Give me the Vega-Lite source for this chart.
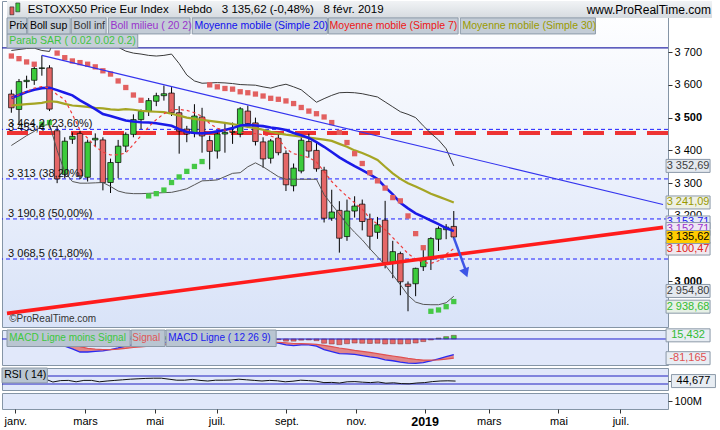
{
"$schema":"https://vega.github.io/schema/vega-lite/v6.json",
"background":"white",
"padding":{"left":1,"top":0,"right":0,"bottom":0},
"spacing":3,
"bounds":"flush",
"config":{
 "font":"Liberation Sans",
 "view":{"stroke":"#8595a6","strokeWidth":1},
 "locale":{"number":{"decimal":",","thousands":" ","grouping":[3],"currency":["","€"]}},
 "axis":{"labelFont":"Liberation Sans","labelFontSize":11,"labelColor":"#000","tickColor":"#333","domain":false,"grid":false}
},
"datasets":{"w":[
{"d":"2017-12-29","o":3572,"h":3585,"l":3515,"c":3530,"u":3705,"b":3415,"m7":3560,"m20":3560,"m30":3537,"s":3688,"mc":25,"sg":30,"hi":-5,"r":55},
{"d":"2018-01-05","o":3525,"h":3618,"l":3480,"c":3610,"u":3708,"b":3430,"m7":3570,"m20":3569,"m30":3539,"s":3680,"mc":28,"sg":29,"hi":-1,"r":62},
{"d":"2018-01-12","o":3610,"h":3628,"l":3590,"c":3614,"u":3711,"b":3445,"m7":3580,"m20":3578,"m30":3541,"s":3670,"mc":30,"sg":29,"hi":1,"r":63},
{"d":"2018-01-19","o":3614,"h":3662,"l":3600,"c":3650,"u":3712,"b":3458,"m7":3590,"m20":3585,"m30":3543,"s":3663,"mc":33,"sg":30,"hi":3,"r":66},
{"d":"2018-01-26","o":3650,"h":3690,"l":3628,"c":3652,"u":3705,"b":3475,"m7":3595,"m20":3590,"m30":3545,"s":3480,"mc":35,"sg":31,"hi":4,"r":66},
{"d":"2018-02-02","o":3652,"h":3660,"l":3520,"c":3526,"u":3702,"b":3480,"m7":3590,"m20":3591,"m30":3550,"s":3485,"mc":10,"sg":20,"hi":-10,"r":55},
{"d":"2018-02-09","o":3460,"h":3475,"l":3300,"c":3313,"u":3768,"b":3400,"m7":3570,"m20":3584,"m30":3548,"s":3697,"mc":-15,"sg":5,"hi":-20,"r":40},
{"d":"2018-02-16","o":3327,"h":3440,"l":3315,"c":3428,"u":3817,"b":3335,"m7":3555,"m20":3576,"m30":3542,"s":3683,"mc":-30,"sg":-8,"hi":-22,"r":47},
{"d":"2018-02-23","o":3434,"h":3455,"l":3420,"c":3443,"u":3831,"b":3305,"m7":3510,"m20":3568,"m30":3537,"s":3673,"mc":-42,"sg":-20,"hi":-22,"r":48},
{"d":"2018-03-02","o":3452,"h":3460,"l":3312,"c":3322,"u":3806,"b":3300,"m7":3462,"m20":3553,"m30":3535,"s":3668,"mc":-55,"sg":-32,"hi":-23,"r":41},
{"d":"2018-03-09","o":3318,"h":3433,"l":3305,"c":3425,"u":3780,"b":3300,"m7":3437,"m20":3540,"m30":3533,"s":3663,"mc":-55,"sg":-40,"hi":-15,"r":48},
{"d":"2018-03-16","o":3432,"h":3452,"l":3412,"c":3437,"u":3751,"b":3301,"m7":3412,"m20":3526,"m30":3530,"s":3655,"mc":-52,"sg":-43,"hi":-9,"r":48},
{"d":"2018-03-23","o":3432,"h":3440,"l":3278,"c":3302,"u":3720,"b":3302,"m7":3395,"m20":3511,"m30":3528,"s":3643,"mc":-50,"sg":-45,"hi":-5,"r":41},
{"d":"2018-03-30","o":3302,"h":3375,"l":3270,"c":3363,"u":3720,"b":3290,"m7":3386,"m20":3505,"m30":3525,"s":3633,"mc":-45,"sg":-45,"hi":0,"r":45},
{"d":"2018-04-06","o":3363,"h":3432,"l":3315,"c":3413,"u":3715,"b":3276,"m7":3387,"m20":3498,"m30":3524,"s":3612,"mc":-38,"sg":-43,"hi":5,"r":48},
{"d":"2018-04-13","o":3413,"h":3455,"l":3395,"c":3449,"u":3703,"b":3270,"m7":3392,"m20":3491,"m30":3526,"s":3592,"mc":-30,"sg":-40,"hi":10,"r":51},
{"d":"2018-04-20","o":3449,"h":3510,"l":3440,"c":3494,"u":3697,"b":3268,"m7":3418,"m20":3488,"m30":3524,"s":3569,"mc":-24,"sg":-36,"hi":12,"r":54},
{"d":"2018-04-27","o":3494,"h":3525,"l":3465,"c":3519,"u":3694,"b":3268,"m7":3445,"m20":3486,"m30":3521,"s":3553,"mc":-20,"sg":-33,"hi":13,"r":56},
{"d":"2018-05-04","o":3519,"h":3560,"l":3505,"c":3552,"u":3690,"b":3269,"m7":3472,"m20":3485,"m30":3519,"s":3261,"mc":-18,"sg":-30,"hi":12,"r":58},
{"d":"2018-05-11","o":3550,"h":3576,"l":3535,"c":3567,"u":3688,"b":3270,"m7":3494,"m20":3483,"m30":3518,"s":3268,"mc":-16,"sg":-27,"hi":11,"r":59},
{"d":"2018-05-18","o":3567,"h":3598,"l":3552,"c":3573,"u":3690,"b":3271,"m7":3512,"m20":3479,"m30":3517,"s":3279,"mc":-14,"sg":-24,"hi":10,"r":59},
{"d":"2018-05-25","o":3575,"h":3593,"l":3505,"c":3515,"u":3694,"b":3272,"m7":3524,"m20":3475,"m30":3512,"s":3302,"mc":-14,"sg":-22,"hi":8,"r":54},
{"d":"2018-06-01","o":3515,"h":3535,"l":3390,"c":3459,"u":3665,"b":3277,"m7":3525,"m20":3465,"m30":3506,"s":3319,"mc":-15,"sg":-20,"hi":5,"r":49},
{"d":"2018-06-08","o":3465,"h":3475,"l":3425,"c":3450,"u":3630,"b":3283,"m7":3522,"m20":3456,"m30":3500,"s":3336,"mc":-16,"sg":-19,"hi":3,"r":49},
{"d":"2018-06-15","o":3452,"h":3541,"l":3440,"c":3505,"u":3612,"b":3295,"m7":3515,"m20":3453,"m30":3496,"s":3351,"mc":-13,"sg":-18,"hi":5,"r":53},
{"d":"2018-06-22","o":3502,"h":3530,"l":3393,"c":3444,"u":3605,"b":3307,"m7":3504,"m20":3452,"m30":3493,"s":3366,"mc":-14,"sg":-17,"hi":3,"r":48},
{"d":"2018-06-29","o":3430,"h":3445,"l":3342,"c":3397,"u":3606,"b":3308,"m7":3482,"m20":3454,"m30":3490,"s":3600,"mc":-16,"sg":-17,"hi":1,"r":45},
{"d":"2018-07-06","o":3398,"h":3460,"l":3375,"c":3450,"u":3607,"b":3310,"m7":3467,"m20":3458,"m30":3487,"s":3594,"mc":-16,"sg":-16.5,"hi":0.5,"r":49},
{"d":"2018-07-13","o":3450,"h":3485,"l":3393,"c":3455,"u":3606,"b":3320,"m7":3462,"m20":3462,"m30":3484,"s":3589,"mc":-15,"sg":-16,"hi":1,"r":49},
{"d":"2018-07-20","o":3455,"h":3485,"l":3420,"c":3458,"u":3604,"b":3330,"m7":3458,"m20":3468,"m30":3480,"s":3587,"mc":-14,"sg":-15.5,"hi":1.5,"r":50},
{"d":"2018-07-27","o":3450,"h":3532,"l":3440,"c":3527,"u":3601,"b":3332,"m7":3455,"m20":3476,"m30":3476,"s":3579,"mc":-10,"sg":-14.5,"hi":4.5,"r":54},
{"d":"2018-08-03","o":3520,"h":3537,"l":3470,"c":3482,"u":3600,"b":3350,"m7":3453,"m20":3478,"m30":3472,"s":3576,"mc":-9,"sg":-13.5,"hi":4.5,"r":51},
{"d":"2018-08-10","o":3484,"h":3500,"l":3415,"c":3427,"u":3599,"b":3362,"m7":3451,"m20":3476,"m30":3468,"s":3572,"mc":-10,"sg":-13,"hi":3,"r":48},
{"d":"2018-08-17","o":3426,"h":3440,"l":3347,"c":3374,"u":3594,"b":3350,"m7":3448,"m20":3474,"m30":3463,"s":3566,"mc":-13,"sg":-13,"hi":0,"r":45},
{"d":"2018-08-24","o":3376,"h":3435,"l":3360,"c":3429,"u":3590,"b":3335,"m7":3444,"m20":3470,"m30":3457,"s":3559,"mc":-14,"sg":-13.3,"hi":-0.7,"r":48},
{"d":"2018-08-31","o":3437,"h":3449,"l":3385,"c":3393,"u":3597,"b":3320,"m7":3436,"m20":3467,"m30":3452,"s":3556,"mc":-17,"sg":-14,"hi":-3,"r":46},
{"d":"2018-09-07","o":3391,"h":3400,"l":3276,"c":3295,"u":3602,"b":3312,"m7":3405,"m20":3462,"m30":3448,"s":3551,"mc":-25,"sg":-16,"hi":-9,"r":41},
{"d":"2018-09-14","o":3292,"h":3360,"l":3275,"c":3346,"u":3594,"b":3312,"m7":3390,"m20":3453,"m30":3445,"s":3543,"mc":-28,"sg":-19,"hi":-9,"r":44},
{"d":"2018-09-21","o":3337,"h":3440,"l":3330,"c":3431,"u":3585,"b":3312,"m7":3385,"m20":3446,"m30":3442,"s":3531,"mc":-25,"sg":-20,"hi":-5,"r":49},
{"d":"2018-09-28","o":3427,"h":3451,"l":3378,"c":3398,"u":3566,"b":3312,"m7":3378,"m20":3438,"m30":3439,"s":3520,"mc":-25,"sg":-21,"hi":-4,"r":47},
{"d":"2018-10-05","o":3400,"h":3424,"l":3335,"c":3344,"u":3547,"b":3312,"m7":3365,"m20":3425,"m30":3436,"s":3512,"mc":-30,"sg":-23,"hi":-7,"r":44},
{"d":"2018-10-12","o":3340,"h":3350,"l":3180,"c":3193,"u":3558,"b":3265,"m7":3335,"m20":3411,"m30":3433,"s":3502,"mc":-45,"sg":-27,"hi":-18,"r":37},
{"d":"2018-10-19","o":3193,"h":3280,"l":3185,"c":3212,"u":3568,"b":3235,"m7":3305,"m20":3395,"m30":3429,"s":3485,"mc":-53,"sg":-32,"hi":-21,"r":38},
{"d":"2018-10-26","o":3217,"h":3245,"l":3088,"c":3132,"u":3576,"b":3206,"m7":3281,"m20":3379,"m30":3420,"s":3455,"mc":-62,"sg":-38,"hi":-24,"r":35},
{"d":"2018-11-02","o":3137,"h":3250,"l":3124,"c":3215,"u":3577,"b":3175,"m7":3260,"m20":3365,"m30":3411,"s":3424,"mc":-63,"sg":-43,"hi":-20,"r":41},
{"d":"2018-11-09","o":3215,"h":3260,"l":3195,"c":3230,"u":3576,"b":3150,"m7":3240,"m20":3352,"m30":3400,"s":3390,"mc":-65,"sg":-48,"hi":-17,"r":42},
{"d":"2018-11-16","o":3236,"h":3250,"l":3156,"c":3183,"u":3573,"b":3127,"m7":3221,"m20":3340,"m30":3392,"s":3360,"mc":-70,"sg":-52,"hi":-18,"r":39},
{"d":"2018-11-23","o":3190,"h":3207,"l":3098,"c":3138,"u":3568,"b":3100,"m7":3192,"m20":3327,"m30":3382,"s":3332,"mc":-76,"sg":-57,"hi":-19,"r":37},
{"d":"2018-11-30","o":3150,"h":3197,"l":3130,"c":3173,"u":3563,"b":3075,"m7":3175,"m20":3313,"m30":3371,"s":3307,"mc":-80,"sg":-62,"hi":-18,"r":40},
{"d":"2018-12-07","o":3187,"h":3246,"l":3040,"c":3057,"u":3548,"b":3050,"m7":3158,"m20":3288,"m30":3350,"s":3285,"mc":-88,"sg":-67,"hi":-21,"r":34},
{"d":"2018-12-14","o":3057,"h":3124,"l":3010,"c":3091,"u":3533,"b":3020,"m7":3134,"m20":3266,"m30":3330,"s":3256,"mc":-92,"sg":-72,"hi":-20,"r":36},
{"d":"2018-12-21","o":3085,"h":3091,"l":2958,"c":2999,"u":3518,"b":2990,"m7":3110,"m20":3240,"m30":3313,"s":3246,"mc":-98,"sg":-77,"hi":-21,"r":32},
{"d":"2018-12-28","o":2992,"h":3000,"l":2909,"c":2985,"u":3510,"b":2958,"m7":3085,"m20":3223,"m30":3300,"s":3200,"mc":-102,"sg":-82,"hi":-20,"r":31},
{"d":"2019-01-04","o":2993,"h":3042,"l":2955,"c":3040,"u":3500,"b":2937,"m7":3068,"m20":3208,"m30":3290,"s":3146,"mc":-103,"sg":-86,"hi":-17,"r":35},
{"d":"2019-01-11","o":3045,"h":3108,"l":3032,"c":3070,"u":3475,"b":2930,"m7":3058,"m20":3197,"m30":3279,"s":3103,"mc":-100,"sg":-89,"hi":-11,"r":37},
{"d":"2019-01-18","o":3068,"h":3135,"l":3035,"c":3131,"u":3452,"b":2929,"m7":3055,"m20":3186,"m30":3268,"s":2909,"mc":-93,"sg":-89,"hi":-4,"r":42},
{"d":"2019-01-25","o":3129,"h":3168,"l":3093,"c":3162,"u":3432,"b":2929,"m7":3063,"m20":3175,"m30":3259,"s":2913,"mc":-84,"sg":-88,"hi":4,"r":45},
{"d":"2019-02-01","o":3158,"h":3175,"l":3129,"c":3166,"u":3405,"b":2935,"m7":3083,"m20":3163,"m30":3250,"s":2923,"mc":-75,"sg":-85,"hi":10,"r":46},
{"d":"2019-02-08","o":3168,"h":3215,"l":3133,"c":3135.62,"u":3352.69,"b":2954.8,"m7":3100.47,"m20":3153.71,"m30":3241.09,"s":2938.68,"mc":-65.73,"sg":-81.165,"hi":15.432,"r":44.677}
]},
"vconcat":[
{
 "width":666,"height":326,
 "view":{"fill":{"gradient":"linear","x1":0,"y1":0,"x2":0,"y2":1,"stops":[{"offset":0,"color":"#ffffff"},{"offset":1,"color":"#d9e3f8"}]},"stroke":"#8595a6"},
 "data":{"name":"w"},
 "layer":[
  {"data":{"values":[{"f":3464.2},{"f":3313},{"f":3190.8},{"f":3068.5}]},
   "mark":{"type":"rule","color":"#1f1fff","strokeDash":[4,3],"strokeWidth":1,"clip":true},
   "encoding":{"y":{"field":"f","type":"quantitative","title":null,"scale":{"domain":[2861,3856],"nice":false,"zero":false},
     "axis":{"orient":"right","values":[3000,3100,3200,3300,3400,3500,3600,3700],"format":",d","tickSize":4,"labelPadding":2,"labelOverlap":false,"title":null,
       "labelFontWeight":{"condition":{"test":"datum.value % 500 === 0","value":"bold"},"value":"normal"}}}}},
  {"data":{"values":[{}]},"mark":{"type":"rule","color":"#ee3333","strokeWidth":4,"strokeDash":[21,11],"clip":true},
   "encoding":{"y":{"datum":3453,"title":null}}},
  {"data":{"values":[{}]},"mark":{"type":"rule","color":"#2a2aa8","strokeWidth":1.2,"clip":true},
   "encoding":{"y":{"datum":3712.8,"title":null}}},
  {"mark":{"type":"rule","color":"#000","strokeWidth":1,"clip":true},
   "encoding":{"x":{"field":"d","type":"temporal","axis":null,"scale":{"type":"utc","domain":[{"year":2017,"month":12,"date":25,"utc":true},{"year":2019,"month":8,"date":19,"utc":true}]}},
     "y":{"field":"l","type":"quantitative","title":null},"y2":{"field":"h"}}},
  {"mark":{"type":"bar","width":5.5,"stroke":"#000","strokeWidth":0.7,"clip":true},
   "encoding":{"x":{"field":"d","type":"temporal","axis":null},
     "y":{"field":"o","type":"quantitative","title":null},"y2":{"field":"c"},
     "color":{"condition":{"test":"datum.c >= datum.o","value":"#3ccb3c"},"value":"#e56767"}}},
  {"mark":{"type":"line","color":"#3a3a3a","strokeWidth":1,"clip":true},
   "encoding":{"x":{"field":"d","type":"temporal","axis":null},"y":{"field":"u","type":"quantitative","title":null}}},
  {"mark":{"type":"line","color":"#555555","strokeWidth":1,"clip":true},
   "encoding":{"x":{"field":"d","type":"temporal","axis":null},"y":{"field":"b","type":"quantitative","title":null}}},
  {"mark":{"type":"line","color":"#a5a524","strokeWidth":2.2,"clip":true},
   "encoding":{"x":{"field":"d","type":"temporal","axis":null},"y":{"field":"m30","type":"quantitative","title":null}}},
  {"mark":{"type":"line","color":"#1a1ae8","strokeWidth":2.6,"clip":true},
   "encoding":{"x":{"field":"d","type":"temporal","axis":null},"y":{"field":"m20","type":"quantitative","title":null}}},
  {"mark":{"type":"line","color":"#f03a3a","strokeWidth":1.2,"strokeDash":[3,3],"clip":true},
   "encoding":{"x":{"field":"d","type":"temporal","axis":null},"y":{"field":"m7","type":"quantitative","title":null}}},
  {"mark":{"type":"square","size":28,"filled":true,"opacity":1,"clip":true},
   "encoding":{"x":{"field":"d","type":"temporal","axis":null},"y":{"field":"s","type":"quantitative","title":null},
     "color":{"condition":{"test":"datum.s > datum.c","value":"#e26060"},"value":"#45c845"}}},
  {"data":{"values":[{"d":"2018-01-26","v":3690},{"d":"2019-08-19","v":3235}]},
   "mark":{"type":"line","color":"#3434ee","strokeWidth":1.2,"clip":true},
   "encoding":{"x":{"field":"d","type":"temporal","axis":null},"y":{"field":"v","type":"quantitative","title":null}}},
  {"data":{"values":[{"d":"2017-12-25","v":2902.6},{"d":"2019-08-19","v":3165}]},
   "mark":{"type":"line","color":"#ff1c1c","strokeWidth":3.6,"clip":true},
   "encoding":{"x":{"field":"d","type":"temporal","axis":null},"y":{"field":"v","type":"quantitative","title":null}}},
  {"data":{"values":[{"d":"2019-02-08","v":3134},{"d":"2019-02-19","v":3034}]},
   "mark":{"type":"line","color":"#3d55e6","strokeWidth":2.5,"clip":true},
   "encoding":{"x":{"field":"d","type":"temporal","axis":null},"y":{"field":"v","type":"quantitative","title":null}}},
  {"data":{"values":[{"d":"2019-02-19","v":3026}]},
   "mark":{"type":"point","shape":"triangle-down","size":110,"filled":true,"opacity":1,"color":"#3d55e6","angle":339},
   "encoding":{"x":{"field":"d","type":"temporal","axis":null},"y":{"field":"v","type":"quantitative","title":null}}},
  {"data":{"values":[{"f":3464.2,"t":"3 464,2 (23,60%)"},{"f":3453.4,"t":"3 453,4"},{"f":3313,"t":"3 313 (38,20%)"},{"f":3190.8,"t":"3 190,8 (50,00%)"},{"f":3068.5,"t":"3 068,5 (61,80%)"}]},
   "mark":{"type":"text","align":"left","baseline":"bottom","fontSize":11,"color":"#111"},
   "encoding":{"x":{"datum":{"year":2017,"month":12,"date":26,"utc":true},"axis":null},"y":{"field":"f","type":"quantitative","title":null},"text":{"field":"t"}}},
  {"data":{"values":[{"t":"©ProRealTime.com"}]},
   "mark":{"type":"text","align":"left","baseline":"middle","fontSize":10,"color":"#333"},
   "encoding":{"x":{"datum":{"year":2017,"month":12,"date":27,"utc":true},"axis":null},"y":{"datum":2885,"title":null},"text":{"field":"t"}}},
  {"data":{"values":[{}]},
   "mark":{"type":"rect","color":{"gradient":"linear","x1":0,"y1":0,"x2":0,"y2":1,"stops":[{"offset":0,"color":"#f1f3f5"},{"offset":1,"color":"#d6dbe0"}]}},
   "encoding":{"x":{"datum":{"year":2017,"month":12,"date":25,"utc":true},"axis":null},"x2":{"datum":{"year":2019,"month":10,"date":3,"utc":true}},"y":{"datum":3856,"title":null},"y2":{"datum":3804.4}}},
  {"data":{"values":[{}]},"mark":{"type":"rect","fill":"#e05a5a","stroke":"#222","strokeWidth":0.6},
   "encoding":{"x":{"datum":{"year":2017,"month":12,"date":27,"hours":17,"utc":true},"axis":null},"x2":{"datum":{"year":2017,"month":12,"date":31,"hours":7,"utc":true}},"y":{"datum":3838,"title":null},"y2":{"datum":3814}}},
  {"data":{"values":[{}]},"mark":{"type":"rect","fill":"#3ccb3c","stroke":"#222","strokeWidth":0.6},
   "encoding":{"x":{"datum":{"year":2018,"month":1,"date":2,"hours":2,"utc":true},"axis":null},"x2":{"datum":{"year":2018,"month":1,"date":5,"hours":18,"utc":true}},"y":{"datum":3850,"title":null},"y2":{"datum":3823}}},
  {"data":{"values":[{"t":"ESTOXX50 Price Eur Index\u00a0\u00a0 Hebdo\u00a0\u00a0 3 135,62 (-0,48%)\u00a0\u00a0 8 févr. 2019"}]},
   "mark":{"type":"text","align":"left","baseline":"middle","fontSize":11.5,"color":"#000"},
   "encoding":{"x":{"datum":{"year":2018,"month":1,"date":13,"utc":true},"axis":null},"y":{"datum":3829,"title":null},"text":{"field":"t"}}},
  {"data":{"values":[{"t":"www.ProRealTime.com"}]},
   "mark":{"type":"text","align":"right","baseline":"middle","fontSize":12,"color":"#000"},
   "encoding":{"x":{"datum":{"year":2019,"month":10,"date":2,"utc":true},"axis":null},"y":{"datum":3829,"title":null},"text":{"field":"t"}}},
  {"data":{"values":[{}]},"mark":{"type":"rect","fill":"#c6ced8","stroke":"#8c9aa8","strokeWidth":1},
   "encoding":{"x":{"datum":{"year":2017,"month":12,"date":25,"utc":true},"axis":null},"x2":{"datum":{"year":2018,"month":4,"date":24,"utc":true}},"y":{"datum":3755.5,"title":null},"y2":{"datum":3712.8}}},
  {"data":{"values":[{}]},"mark":{"type":"rect","fill":"#c3ccd6","stroke":"#8c9aa8","strokeWidth":1},
   "encoding":{"x":{"datum":{"year":2017,"month":12,"date":25,"utc":true},"axis":null},"x2":{"datum":{"year":2018,"month":1,"date":12,"utc":true}},"y":{"datum":3804.4,"title":null},"y2":{"datum":3755.5}}},
  {"data":{"values":[{}]},"mark":{"type":"rect","fill":"#c3ccd6","stroke":"#8c9aa8","strokeWidth":1},
   "encoding":{"x":{"datum":{"year":2018,"month":1,"date":13,"utc":true},"axis":null},"x2":{"datum":{"year":2018,"month":2,"date":21,"utc":true}},"y":{"datum":3804.4,"title":null},"y2":{"datum":3755.5}}},
  {"data":{"values":[{}]},"mark":{"type":"rect","fill":"#c3ccd6","stroke":"#8c9aa8","strokeWidth":1},
   "encoding":{"x":{"datum":{"year":2018,"month":2,"date":22,"utc":true},"axis":null},"x2":{"datum":{"year":2018,"month":3,"date":26,"utc":true}},"y":{"datum":3804.4,"title":null},"y2":{"datum":3755.5}}},
  {"data":{"values":[{}]},"mark":{"type":"rect","fill":"#c3ccd6","stroke":"#8c9aa8","strokeWidth":1},
   "encoding":{"x":{"datum":{"year":2018,"month":3,"date":28,"utc":true},"axis":null},"x2":{"datum":{"year":2018,"month":6,"date":11,"utc":true}},"y":{"datum":3804.4,"title":null},"y2":{"datum":3755.5}}},
  {"data":{"values":[{}]},"mark":{"type":"rect","fill":"#c3ccd6","stroke":"#8c9aa8","strokeWidth":1},
   "encoding":{"x":{"datum":{"year":2018,"month":6,"date":13,"utc":true},"axis":null},"x2":{"datum":{"year":2018,"month":10,"date":15,"utc":true}},"y":{"datum":3804.4,"title":null},"y2":{"datum":3755.5}}},
  {"data":{"values":[{}]},"mark":{"type":"rect","fill":"#c3ccd6","stroke":"#8c9aa8","strokeWidth":1},
   "encoding":{"x":{"datum":{"year":2018,"month":10,"date":16,"utc":true},"axis":null},"x2":{"datum":{"year":2019,"month":2,"date":12,"utc":true}},"y":{"datum":3804.4,"title":null},"y2":{"datum":3755.5}}},
  {"data":{"values":[{}]},"mark":{"type":"rect","fill":"#c3ccd6","stroke":"#8c9aa8","strokeWidth":1},
   "encoding":{"x":{"datum":{"year":2019,"month":2,"date":14,"utc":true},"axis":null},"x2":{"datum":{"year":2019,"month":6,"date":18,"utc":true}},"y":{"datum":3804.4,"title":null},"y2":{"datum":3755.5}}},
  {"data":{"values":[{"t":"Prix"}]},"mark":{"type":"text","align":"left","baseline":"middle","fontSize":10.5,"color":"#000"},
   "encoding":{"x":{"datum":{"year":2017,"month":12,"date":27,"utc":true},"axis":null},"y":{"datum":3780,"title":null},"text":{"field":"t"}}},
  {"data":{"values":[{"t":"Boll sup"}]},"mark":{"type":"text","align":"left","baseline":"middle","fontSize":10.5,"color":"#000"},
   "encoding":{"x":{"datum":{"year":2018,"month":1,"date":15,"utc":true},"axis":null},"y":{"datum":3780,"title":null},"text":{"field":"t"}}},
  {"data":{"values":[{"t":"Boll inf"}]},"mark":{"type":"text","align":"left","baseline":"middle","fontSize":10.5,"color":"#333"},
   "encoding":{"x":{"datum":{"year":2018,"month":2,"date":24,"utc":true},"axis":null},"y":{"datum":3780,"title":null},"text":{"field":"t"}}},
  {"data":{"values":[{"t":"Boll milieu ( 20 2)"}]},"mark":{"type":"text","align":"left","baseline":"middle","fontSize":10.5,"color":"#9933cc"},
   "encoding":{"x":{"datum":{"year":2018,"month":3,"date":30,"utc":true},"axis":null},"y":{"datum":3780,"title":null},"text":{"field":"t"}}},
  {"data":{"values":[{"t":"Moyenne mobile (Simple 20)"}]},"mark":{"type":"text","align":"left","baseline":"middle","fontSize":10.5,"color":"#1010ee"},
   "encoding":{"x":{"datum":{"year":2018,"month":6,"date":15,"utc":true},"axis":null},"y":{"datum":3780,"title":null},"text":{"field":"t"}}},
  {"data":{"values":[{"t":"Moyenne mobile (Simple 7)"}]},"mark":{"type":"text","align":"left","baseline":"middle","fontSize":10.5,"color":"#ee1515"},
   "encoding":{"x":{"datum":{"year":2018,"month":10,"date":17,"utc":true},"axis":null},"y":{"datum":3780,"title":null},"text":{"field":"t"}}},
  {"data":{"values":[{"t":"Moyenne mobile (Simple 30)"}]},"mark":{"type":"text","align":"left","baseline":"middle","fontSize":10.5,"color":"#9a9a00"},
   "encoding":{"x":{"datum":{"year":2019,"month":2,"date":16,"utc":true},"axis":null},"y":{"datum":3780,"title":null},"text":{"field":"t"}}},
  {"data":{"values":[{"t":"Parab SAR ( 0.02 0.02 0.2)"}]},"mark":{"type":"text","align":"left","baseline":"middle","fontSize":10.5,"color":"#3fc43f"},
   "encoding":{"x":{"datum":{"year":2017,"month":12,"date":27,"utc":true},"axis":null},"y":{"datum":3734,"title":null},"text":{"field":"t"}}},
  {"data":{"values":[{"t":"3 153,71","k":"m20"}]},
   "mark":{"type":"tick","orient":"horizontal","size":44,"thickness":13,"stroke":"#8b99a8","strokeWidth":1,"opacity":1},
   "encoding":{"x":{"datum":{"year":2019,"month":9,"date":11,"utc":true},"axis":null},"y":{"datum":3180,"title":null},
     "fill":{"field":"k","type":"nominal","legend":null,"scale":{"domain":["bbu","m30","px","m7","bbl","sar","m20","bm"],"range":["#e4e9ef","#eef0e4","#ffcc00","#f1e9ee","#e4e9ef","#e6f0e6","#e8eaf6","#eee8f4"]}}}},
  {"data":{"values":[{"t":"3 153,71","k":"m20"}]},
   "mark":{"type":"text","align":"center","baseline":"middle","fontSize":11},
   "encoding":{"x":{"datum":{"year":2019,"month":9,"date":11,"utc":true},"axis":null},"y":{"datum":3180,"title":null},"text":{"field":"t"},
     "color":{"field":"k","type":"nominal","legend":null,"scale":{"domain":["bbu","m30","px","m7","bbl","sar","m20","bm"],"range":["#404040","#999900","#000000","#e02020","#404040","#33bb33","#2020ee","#9933cc"]}}}},
  {"data":{"values":[{"t":"3 152,71","k":"bm"}]},
   "mark":{"type":"tick","orient":"horizontal","size":44,"thickness":13,"stroke":"#8b99a8","strokeWidth":1,"opacity":1},
   "encoding":{"x":{"datum":{"year":2019,"month":9,"date":11,"utc":true},"axis":null},"y":{"datum":3160,"title":null},"fill":{"field":"k","type":"nominal","legend":null}}},
  {"data":{"values":[{"t":"3 152,71","k":"bm"}]},
   "mark":{"type":"text","align":"center","baseline":"middle","fontSize":11},
   "encoding":{"x":{"datum":{"year":2019,"month":9,"date":11,"utc":true},"axis":null},"y":{"datum":3160,"title":null},"text":{"field":"t"},"color":{"field":"k","type":"nominal","legend":null}}},
  {"data":{"values":[{"v":3352.69,"t":"3 352,69","k":"bbu"},{"v":3241.09,"t":"3 241,09","k":"m30"},{"v":3100.47,"t":"3 100,47","k":"m7"},{"v":3135.62,"t":"3 135,62","k":"px"}]},
   "mark":{"type":"tick","orient":"horizontal","size":44,"thickness":13,"stroke":"#8b99a8","strokeWidth":1,"opacity":1},
   "encoding":{"x":{"datum":{"year":2019,"month":9,"date":11,"utc":true},"axis":null},"y":{"field":"v","type":"quantitative","title":null},"fill":{"field":"k","type":"nominal","legend":null}}},
  {"data":{"values":[{"v":3352.69,"t":"3 352,69","k":"bbu"},{"v":3241.09,"t":"3 241,09","k":"m30"},{"v":3100.47,"t":"3 100,47","k":"m7"},{"v":3135.62,"t":"3 135,62","k":"px"}]},
   "mark":{"type":"text","align":"center","baseline":"middle","fontSize":11},
   "encoding":{"x":{"datum":{"year":2019,"month":9,"date":11,"utc":true},"axis":null},"y":{"field":"v","type":"quantitative","title":null},"text":{"field":"t"},"color":{"field":"k","type":"nominal","legend":null}}},
  {"data":{"values":[{"t":"2 954,80","k":"bbl"}]},
   "mark":{"type":"tick","orient":"horizontal","size":44,"thickness":13,"stroke":"#8b99a8","strokeWidth":1,"opacity":1},
   "encoding":{"x":{"datum":{"year":2019,"month":9,"date":11,"utc":true},"axis":null},"y":{"datum":2971,"title":null},"fill":{"field":"k","type":"nominal","legend":null}}},
  {"data":{"values":[{"t":"2 954,80","k":"bbl"}]},
   "mark":{"type":"text","align":"center","baseline":"middle","fontSize":11},
   "encoding":{"x":{"datum":{"year":2019,"month":9,"date":11,"utc":true},"axis":null},"y":{"datum":2971,"title":null},"text":{"field":"t"},"color":{"field":"k","type":"nominal","legend":null}}},
  {"data":{"values":[{"t":"2 938,68","k":"sar"}]},
   "mark":{"type":"tick","orient":"horizontal","size":44,"thickness":13,"stroke":"#8b99a8","strokeWidth":1,"opacity":1},
   "encoding":{"x":{"datum":{"year":2019,"month":9,"date":11,"utc":true},"axis":null},"y":{"datum":2923,"title":null},"fill":{"field":"k","type":"nominal","legend":null}}},
  {"data":{"values":[{"t":"2 938,68","k":"sar"}]},
   "mark":{"type":"text","align":"center","baseline":"middle","fontSize":11},
   "encoding":{"x":{"datum":{"year":2019,"month":9,"date":11,"utc":true},"axis":null},"y":{"datum":2923,"title":null},"text":{"field":"t"},"color":{"field":"k","type":"nominal","legend":null}}}
 ]
},
{
 "width":666,"height":35,
 "view":{"fill":"#e1e8fa","stroke":"#8595a6"},
 "data":{"name":"w"},
 "layer":[
  {"mark":{"type":"area","color":"#e07474","opacity":0.85,"clip":true},
   "encoding":{"x":{"field":"d","type":"temporal","axis":null,"scale":{"type":"utc","domain":[{"year":2017,"month":12,"date":25,"utc":true},{"year":2019,"month":8,"date":19,"utc":true}]}},
     "y":{"field":"mc","type":"quantitative","title":null,"scale":{"domain":[-110,38],"nice":false,"zero":false},
       "axis":{"orient":"right","values":[15.432,-81.165],"labels":false,"tickSize":4,"title":null}},
     "y2":{"field":"sg"}}},
  {"mark":{"type":"bar","width":5,"stroke":"#7a3030","strokeWidth":0.5,"clip":true},
   "encoding":{"x":{"field":"d","type":"temporal","axis":null},"y":{"field":"hi","type":"quantitative","title":null},"y2":{"datum":0},
     "color":{"condition":{"test":"datum.hi >= 0","value":"#3ccb3c"},"value":"#e56767"}}},
  {"data":{"values":[{}]},"mark":{"type":"rule","color":"#2020d0","strokeWidth":1,"clip":true},"encoding":{"y":{"datum":0,"title":null}}},
  {"mark":{"type":"line","color":"#2a2af0","strokeWidth":1.3,"clip":true},
   "encoding":{"x":{"field":"d","type":"temporal","axis":null},"y":{"field":"mc","type":"quantitative","title":null}}},
  {"mark":{"type":"line","color":"#e05050","strokeWidth":1.2,"clip":true},
   "encoding":{"x":{"field":"d","type":"temporal","axis":null},"y":{"field":"sg","type":"quantitative","title":null}}},
  {"data":{"values":[{}]},"mark":{"type":"rect","fill":"#b9c5d1","stroke":"#8c9aa8","strokeWidth":1},
   "encoding":{"x":{"datum":{"year":2017,"month":12,"date":25,"utc":true},"axis":null},"x2":{"datum":{"year":2018,"month":4,"date":17,"utc":true}},"y":{"datum":38,"title":null},"y2":{"datum":-31.8}}},
  {"data":{"values":[{}]},"mark":{"type":"rect","fill":"#b9c5d1","stroke":"#8c9aa8","strokeWidth":1},
   "encoding":{"x":{"datum":{"year":2018,"month":4,"date":18,"utc":true},"axis":null},"x2":{"datum":{"year":2018,"month":5,"date":19,"utc":true}},"y":{"datum":38,"title":null},"y2":{"datum":-31.8}}},
  {"data":{"values":[{}]},"mark":{"type":"rect","fill":"#b9c5d1","stroke":"#8c9aa8","strokeWidth":1},
   "encoding":{"x":{"datum":{"year":2018,"month":5,"date":20,"utc":true},"axis":null},"x2":{"datum":{"year":2018,"month":8,"date":29,"utc":true}},"y":{"datum":38,"title":null},"y2":{"datum":-31.8}}},
  {"data":{"values":[{"t":"MACD Ligne moins Signal"}]},"mark":{"type":"text","align":"left","baseline":"middle","fontSize":10,"color":"#3cc83c"},
   "encoding":{"x":{"datum":{"year":2017,"month":12,"date":27,"utc":true},"axis":null},"y":{"datum":5,"title":null},"text":{"field":"t"}}},
  {"data":{"values":[{"t":"Signal"}]},"mark":{"type":"text","align":"left","baseline":"middle","fontSize":10,"color":"#e05555"},
   "encoding":{"x":{"datum":{"year":2018,"month":4,"date":19,"utc":true},"axis":null},"y":{"datum":5,"title":null},"text":{"field":"t"}}},
  {"data":{"values":[{"t":"MACD Ligne ( 12 26 9)"}]},"mark":{"type":"text","align":"left","baseline":"middle","fontSize":10,"color":"#2020ee"},
   "encoding":{"x":{"datum":{"year":2018,"month":5,"date":22,"utc":true},"axis":null},"y":{"datum":5,"title":null},"text":{"field":"t"}}},
  {"data":{"values":[{"v":15.432,"t":"15,432"},{"v":-81.165,"t":"-81,165"}]},
   "mark":{"type":"tick","orient":"horizontal","size":44,"thickness":13,"stroke":"#8b99a8","strokeWidth":1,"opacity":1,"color":"#e8edf3"},
   "encoding":{"x":{"datum":{"year":2019,"month":9,"date":11,"utc":true},"axis":null},"y":{"field":"v","type":"quantitative","title":null}}},
  {"data":{"values":[{"v":15.432,"t":"15,432"},{"v":-81.165,"t":"-81,165"}]},
   "mark":{"type":"text","align":"center","baseline":"middle","fontSize":11},
   "encoding":{"x":{"datum":{"year":2019,"month":9,"date":11,"utc":true},"axis":null},"y":{"field":"v","type":"quantitative","title":null},"text":{"field":"t"},
     "color":{"condition":{"test":"datum.v > 0","value":"#33bb33"},"value":"#e05050"}}}
 ]
},
{
 "width":666,"height":22,
 "view":{"fill":"#e1e8fa","stroke":"#8595a6"},
 "data":{"name":"w"},
 "layer":[
  {"data":{"values":[{"lv":70},{"lv":30}]},"mark":{"type":"rule","color":"#2020c0","strokeWidth":1,"clip":true},
   "encoding":{"y":{"field":"lv","type":"quantitative","title":null,"scale":{"domain":[0,110],"nice":false,"zero":false},
     "axis":{"orient":"right","values":[44.677],"labels":false,"tickSize":4,"title":null}}}},
  {"mark":{"type":"line","color":"#111","strokeWidth":1,"clip":true},
   "encoding":{"x":{"field":"d","type":"temporal","axis":null,"scale":{"type":"utc","domain":[{"year":2017,"month":12,"date":25,"utc":true},{"year":2019,"month":8,"date":19,"utc":true}]}},
     "y":{"field":"r","type":"quantitative","title":null}}},
  {"data":{"values":[{}]},"mark":{"type":"rect","fill":"#b9c5d1","stroke":"#8c9aa8","strokeWidth":1},
   "encoding":{"x":{"datum":{"year":2017,"month":12,"date":25,"utc":true},"axis":null},"x2":{"datum":{"year":2018,"month":2,"date":4,"utc":true}},"y":{"datum":110,"title":null},"y2":{"datum":36}}},
  {"data":{"values":[{"t":"RSI ( 14)"}]},"mark":{"type":"text","align":"left","baseline":"middle","fontSize":10.5,"color":"#000"},
   "encoding":{"x":{"datum":{"year":2017,"month":12,"date":27,"utc":true},"axis":null},"y":{"datum":73,"title":null},"text":{"field":"t"}}},
  {"data":{"values":[{"v":44.677,"t":"44,677"}]},
   "mark":{"type":"tick","orient":"horizontal","size":44,"thickness":13,"stroke":"#8b99a8","strokeWidth":1,"opacity":1,"color":"#e8edf3"},
   "encoding":{"x":{"datum":{"year":2019,"month":9,"date":11,"utc":true},"axis":null},"y":{"field":"v","type":"quantitative","title":null}}},
  {"data":{"values":[{"v":44.677,"t":"44,677"}]},
   "mark":{"type":"text","align":"center","baseline":"middle","fontSize":11,"color":"#000"},
   "encoding":{"x":{"datum":{"year":2019,"month":9,"date":11,"utc":true},"axis":null},"y":{"field":"v","type":"quantitative","title":null},"text":{"field":"t"}}}
 ]
},
{
 "width":666,"height":16,
 "view":{"fill":"#e1e8fa","stroke":"#8595a6"},
 "data":{"name":"w"},
 "mark":{"type":"point","opacity":0,"clip":true},
 "encoding":{
  "x":{"field":"d","type":"temporal","title":null,
    "scale":{"type":"utc","domain":[{"year":2017,"month":12,"date":25,"utc":true},{"year":2019,"month":8,"date":19,"utc":true}]},
    "axis":{"orient":"bottom","title":null,"tickSize":4,"labelPadding":2,"labelOverlap":false,"labelFlush":false,"domain":false,
      "values":[{"year":2018,"month":1,"date":6,"utc":true},{"year":2018,"month":3,"date":10,"utc":true},{"year":2018,"month":5,"date":12,"utc":true},{"year":2018,"month":7,"date":7,"utc":true},{"year":2018,"month":9,"date":8,"utc":true},{"year":2018,"month":11,"date":10,"utc":true},{"year":2019,"month":1,"date":11,"utc":true},{"year":2019,"month":3,"date":10,"utc":true},{"year":2019,"month":5,"date":12,"utc":true},{"year":2019,"month":7,"date":7,"utc":true}],
      "labelExpr":"utcmonth(datum.value)==0 ? (utcyear(datum.value)==2019 ? '2019' : 'janv.') : utcmonth(datum.value)==2 ? 'mars' : utcmonth(datum.value)==4 ? 'mai' : utcmonth(datum.value)==6 ? 'juil.' : utcmonth(datum.value)==8 ? 'sept.' : 'nov.'",
      "labelFontWeight":{"condition":{"test":"utcyear(datum.value)==2019 && utcmonth(datum.value)==0","value":"bold"},"value":"normal"},
      "labelFontSize":{"condition":{"test":"utcyear(datum.value)==2019 && utcmonth(datum.value)==0","value":12.5},"value":11}}},
  "y":{"datum":0,"type":"quantitative","scale":{"domain":[0,200000000],"nice":false,"zero":false},
    "axis":{"orient":"right","values":[100000000],"labelExpr":"'100M'","tickSize":4,"labelPadding":2,"title":null}}
 }
}
]
}
